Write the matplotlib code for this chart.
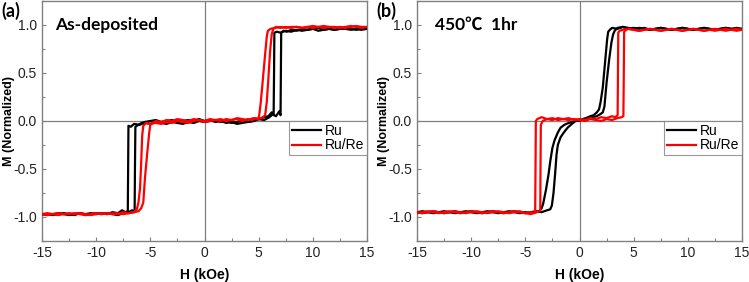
import numpy as np
import matplotlib
matplotlib.use('Agg')
import matplotlib.pyplot as plt
from matplotlib.ticker import MultipleLocator

plt.rcParams['font.family'] = ['Liberation Sans', 'DejaVu Sans']
plt.rcParams['axes.unicode_minus'] = False

a_ru_down = [(15, .96), (14.5, .95), (14, .96), (13.5, .95), (13, .96), (12.5, .96), (12, .95), (11.5, .96),
             (11, .95), (10.5, .94), (10, .96), (9.5, .95), (9, .94), (8.5, .95), (8, .93), (7.5, .94), (7.0, .92),
             (6.7, .93), (6.45, .92), (6.42, .50), (6.38, .06), (6.2, .09), (5.9, .05), (5.5, .04), (5, .02),
             (4.5, 0), (4, -.01), (3.5, .01), (3, -.01), (2.5, -.02), (2, 0), (1.5, -.01), (1, .01), (.5, 0),
             (0, -.01), (-.5, 0), (-1, -.02), (-1.5, -.01), (-2, -.03), (-2.5, -.02), (-3, -.01), (-3.5, -.03),
             (-4, -.02), (-4.5, -.01), (-5, -.03), (-5.5, -.02), (-6, -.04), (-6.5, -.03), (-6.8, -.06),
             (-7.02, -.05), (-7.05, -.5), (-7.08, -.94), (-7.3, -.95), (-7.6, -.93), (-8, -.96), (-8.5, -.95),
             (-9, -.97), (-9.5, -.96), (-10, -.97), (-10.5, -.96), (-11, -.97), (-11.5, -.96), (-12, -.98),
             (-12.5, -.97), (-13, -.96), (-13.5, -.97), (-14, -.98), (-14.5, -.97), (-15, -.97)]
a_ru_up = [(-15, -.97), (-14.5, -.98), (-14, -.97), (-13.5, -.96), (-13, -.97), (-12.5, -.98), (-12, -.97),
           (-11.5, -.96), (-11, -.98), (-10.5, -.97), (-10, -.96), (-9.5, -.97), (-9, -.96), (-8.5, -.97),
           (-8, -.98), (-7.5, -.96), (-7, -.95), (-6.7, -.93), (-6.45, -.94), (-6.42, -.5), (-6.38, -.06),
           (-6.1, -.04), (-5.8, -.02), (-5.5, -.01), (-5, 0), (-4.5, .01), (-4, -.01), (-3.5, 0), (-3, .01),
           (-2.5, -.01), (-2, 0), (-1.5, .01), (-1, 0), (-.5, .02), (0, 0), (.5, .01), (1, -.01), (1.5, 0),
           (2, -.02), (2.5, -.01), (3, -.03), (3.5, -.02), (4, -.01), (4.5, 0), (5, .02), (5.5, .01), (6, .04),
           (6.3, .07), (6.6, .05), (6.9, .10), (7.02, .06), (7.05, .5), (7.08, .92), (7.3, .94), (7.6, .93),
           (8, .95), (8.5, .94), (9, .96), (9.5, .95), (10, .96), (10.5, .97), (11, .95), (11.5, .96), (12, .95),
           (12.5, .96), (13, .97), (13.5, .96), (14, .95), (14.5, .96), (15, .96)]
a_rure_down = [(15, .98), (14.5, .97), (14, .98), (13.5, .99), (13, .98), (12.5, .97), (12, .98), (11.5, .98),
               (11, .97), (10.5, .98), (10, .99), (9.5, .98), (9, .97), (8.5, .98), (8, .98), (7.5, .97), (7, .98),
               (6.5, .97), (6.1, .96), (5.85, .94), (5.75, .88), (5.6, .70), (5.4, .45), (5.2, .20), (5.05, .06),
               (4.95, .02), (4.7, .03), (4.4, .01), (4, .02), (3.5, 0), (3, .02), (2.5, .01), (2, 0), (1.5, .02),
               (1, .01), (.5, 0), (0, -.01), (-.5, .01), (-1, 0), (-1.5, -.02), (-2, -.01), (-2.5, 0), (-3, -.02),
               (-3.5, -.01), (-4, -.03), (-4.5, -.02), (-5, -.03), (-5.4, -.02), (-5.65, -.05), (-5.75, -.15),
               (-5.85, -.45), (-5.95, -.70), (-6.1, -.85), (-6.25, -.92), (-6.5, -.95), (-7, -.96), (-7.5, -.95),
               (-8, -.97), (-8.5, -.96), (-9, -.97), (-9.5, -.96), (-10, -.97), (-10.5, -.98), (-11, -.97),
               (-11.5, -.96), (-12, -.97), (-12.5, -.96), (-13, -.97), (-13.5, -.98), (-14, -.97), (-14.5, -.96),
               (-15, -.97)]
a_rure_up = [(-15, -.97), (-14.5, -.98), (-14, -.97), (-13.5, -.96), (-13, -.97), (-12.5, -.97), (-12, -.96),
             (-11.5, -.97), (-11, -.98), (-10.5, -.97), (-10, -.96), (-9.5, -.97), (-9, -.96), (-8.5, -.97),
             (-8, -.96), (-7.5, -.97), (-7, -.96), (-6.5, -.95), (-6.1, -.94), (-5.85, -.91), (-5.65, -.85),
             (-5.5, -.6), (-5.3, -.35), (-5.1, -.12), (-5.0, -.04), (-4.8, -.02), (-4.5, 0), (-4, -.01), (-3.5, .01),
             (-3, 0), (-2.5, .02), (-2, .01), (-1.5, 0), (-1, .02), (-.5, .01), (0, 0), (.5, .02), (1, .01),
             (1.5, 0), (2, .02), (2.5, .01), (3, .03), (3.5, .02), (4, .01), (4.5, .03), (5, .02), (5.4, .04),
             (5.6, .06), (5.75, .2), (5.9, .45), (6.05, .72), (6.2, .90), (6.35, .96), (6.6, .98), (7, .97),
             (7.5, .98), (8, .97), (8.5, .98), (9, .97), (9.5, .98), (10, .97), (10.5, .98), (11, .99), (11.5, .98),
             (12, .97), (12.5, .98), (13, .97), (13.5, .98), (14, .99), (14.5, .98), (15, .98)]

b_ru_down = [(15, .96), (14.5, .97), (14, .96), (13.5, .97), (13, .96), (12.5, .95), (12, .96), (11.5, .97),
             (11, .96), (10.5, .95), (10, .96), (9.5, .97), (9, .96), (8.5, .95), (8, .96), (7.5, .97), (7, .96),
             (6.5, .95), (6, .96), (5.5, .97), (5, .96), (4.5, .97), (4, .98), (3.5, .96), (3.0, .97), (2.8, .95),
             (2.65, .93), (2.55, .85), (2.35, .6), (2.15, .35), (1.95, .2), (1.8, .12), (1.6, .09), (1.3, .06),
             (1.0, .05), (.6, .03), (.3, .02), (0, 0), (-.3, .01), (-.6, -.01), (-1.0, -.02), (-1.4, -.04),
             (-1.75, -.07), (-2.0, -.12), (-2.3, -.2), (-2.5, -.28), (-2.7, -.42), (-2.85, -.55), (-3.1, -.72),
             (-3.35, -.86), (-3.5, -.91), (-3.7, -.94), (-4, -.95), (-4.5, -.96), (-5, -.95), (-5.5, -.96),
             (-6, -.95), (-6.5, -.94), (-7, -.95), (-7.5, -.96), (-8, -.95), (-8.5, -.94), (-9, -.95), (-9.5, -.96),
             (-10, -.95), (-10.5, -.94), (-11, -.95), (-11.5, -.96), (-12, -.95), (-12.5, -.94), (-13, -.95),
             (-13.5, -.96), (-14, -.95), (-14.5, -.94), (-15, -.95)]
b_ru_up = [(-15, -.95), (-14.5, -.96), (-14, -.95), (-13.5, -.94), (-13, -.95), (-12.5, -.96), (-12, -.95),
           (-11.5, -.94), (-11, -.96), (-10.5, -.95), (-10, -.94), (-9.5, -.95), (-9, -.96), (-8.5, -.95),
           (-8, -.94), (-7.5, -.95), (-7, -.96), (-6.5, -.95), (-6, -.94), (-5.5, -.95), (-5, -.96), (-4.5, -.95),
           (-4, -.94), (-3.5, -.95), (-3.0, -.93), (-2.7, -.92), (-2.55, -.88), (-2.4, -.75), (-2.25, -.55),
           (-2.12, -.35), (-2.0, -.25), (-1.75, -.17), (-1.45, -.12), (-1.1, -.07), (-.7, -.03), (-.37, 0),
           (0, .01), (.4, .02), (.8, .03), (1.2, .04), (1.6, .05), (1.9, .07), (2.15, .09), (2.3, .15), (2.5, .4),
           (2.75, .65), (2.95, .82), (3.1, .9), (3.25, .94), (3.5, .97), (4, .98), (4.5, .96), (5, .97),
           (5.5, .96), (6, .97), (6.5, .95), (7, .96), (7.5, .97), (8, .96), (8.5, .95), (9, .96), (9.5, .97),
           (10, .96), (10.5, .95), (11, .96), (11.5, .97), (12, .96), (12.5, .95), (13, .96), (13.5, .97),
           (14, .96), (14.5, .95), (15, .96)]
b_rure_down = [(15, .95), (14.5, .94), (14, .95), (13.5, .96), (13, .95), (12.5, .94), (12, .95), (11.5, .94),
               (11, .95), (10.5, .96), (10, .95), (9.5, .94), (9, .95), (8.5, .96), (8, .95), (7.5, .94), (7, .95),
               (6.5, .96), (6, .95), (5.5, .94), (5, .95), (4.5, .96), (4, .95), (3.7, .94), (3.58, .92),
               (3.55, .5), (3.52, .06), (3.3, .04), (3.0, .05), (2.5, .03), (2, .04), (1.5, .02), (1, .03),
               (.5, .01), (0, .02), (-.5, .01), (-1, .03), (-1.5, .02), (-2, .01), (-2.5, .03), (-3, .02),
               (-3.5, .04), (-3.9, .02), (-4.03, 0), (-4.06, -.5), (-4.09, -.93), (-4.2, -.96), (-4.5, -.95),
               (-5, -.96), (-5.5, -.94), (-6, -.95), (-6.5, -.96), (-7, -.95), (-7.5, -.94), (-8, -.95),
               (-8.5, -.96), (-9, -.95), (-9.5, -.94), (-10, -.95), (-10.5, -.96), (-11, -.95), (-11.5, -.94),
               (-12, -.95), (-12.5, -.96), (-13, -.95), (-13.5, -.94), (-14, -.95), (-14.5, -.96), (-15, -.95)]
b_rure_up = [(-15, -.96), (-14.5, -.95), (-14, -.94), (-13.5, -.95), (-13, -.96), (-12.5, -.95), (-12, -.94),
             (-11.5, -.95), (-11, -.96), (-10.5, -.95), (-10, -.94), (-9.5, -.95), (-9, -.96), (-8.5, -.95),
             (-8, -.94), (-7.5, -.95), (-7, -.96), (-6.5, -.95), (-6, -.94), (-5.5, -.95), (-5, -.96),
             (-4.5, -.97), (-4, -.95), (-3.7, -.94), (-3.62, -.92), (-3.6, -.5), (-3.57, -.04), (-3.4, 0),
             (-3, .02), (-2.5, .01), (-2, .03), (-1.5, .02), (-1, .01), (-.5, .02), (0, .01), (.5, 0), (1, .02),
             (1.5, .01), (2, 0), (2.5, .02), (3, .01), (3.5, .03), (3.9, .04), (4.05, .05), (4.09, .5),
             (4.12, .93), (4.3, .95), (4.5, .96), (5, .95), (5.5, .94), (6, .95), (6.5, .96), (7, .95),
             (7.5, .94), (8, .95), (8.5, .96), (9, .95), (9.5, .94), (10, .95), (10.5, .96), (11, .95),
             (11.5, .94), (12, .95), (12.5, .96), (13, .95), (13.5, .94), (14, .95), (14.5, .96), (15, .95)]

panels = [
    ('(a)', 'As-deposited', a_ru_down, a_ru_up, a_rure_down, a_rure_up),
    ('(b)', '450\u2103  1hr', b_ru_down, b_ru_up, b_rure_down, b_rure_up),
]
x_ticks = [-15, -10, -5, 0, 5, 10, 15]
y_ticks = [-1.0, -0.5, 0.0, 0.5, 1.0]

fig = plt.figure(figsize=(7.49, 2.82), dpi=100)
lefts = [42 / 749, 417 / 749]
grey = '#808080'

for i, (tag, title, ru_dn, ru_up, rr_dn, rr_up) in enumerate(panels):
    ax = fig.add_axes([lefts[i], 41 / 282, 325 / 749, 240 / 282])
    ax.axhline(0, color=grey, lw=0.9, zorder=1)
    ax.axvline(0, color=grey, lw=0.9, zorder=1)

    for pts, col, lab in [(ru_dn, 'black', 'Ru'), (ru_up, 'black', None),
                          (rr_dn, '#ff0000', 'Ru/Re'), (rr_up, '#ff0000', None)]:
        p = np.array(pts)
        ax.plot(p[:, 0], p[:, 1], color=col, lw=1.6, label=lab, zorder=3)

    ax.set_xlim(-15, 15)
    ax.set_ylim(-1.25, 1.25)
    ax.set_xticks(x_ticks)
    ax.set_yticks(y_ticks)
    ax.xaxis.set_minor_locator(MultipleLocator(2.5))
    ax.yaxis.set_minor_locator(MultipleLocator(0.25))
    ax.tick_params(which='both', direction='in', color=grey, labelsize=10, labelcolor='#222222')
    ax.tick_params(which='major', length=3, width=0.8)
    ax.tick_params(which='minor', length=2, width=0.8)
    for s in ax.spines.values():
        s.set_color(grey)
        s.set_linewidth(1.0)

    ax.set_xlabel('H (kOe)', fontsize=10, fontweight='bold', labelpad=6)
    ax.set_ylabel('M (Normalized)', fontsize=9, fontweight='bold')
    ax.yaxis.set_label_coords(-0.082, 0.5)

    ax.text(-13.8 if i == 0 else -13.3, 1.0, title, fontsize=12.5, fontweight='bold',
            va='center', ha='left', family=['Lato', 'Noto Sans CJK SC'])
    fig.text(lefts[i] - 41 / 749, 1 - 11 / 282, tag, fontsize=13, fontweight='bold',
             va='center', ha='left', family=['Lato', 'DejaVu Sans'])

    leg = ax.legend(loc='upper right', bbox_to_anchor=(1.0, 0.5), fontsize=10, frameon=True,
                    fancybox=False, borderaxespad=0, handlelength=2.1, handletextpad=0.3,
                    labelspacing=0.05, borderpad=0.2)
    leg.get_frame().set_edgecolor(grey)
    leg.get_frame().set_linewidth(0.8)

fig.savefig('out.png', dpi=100)
